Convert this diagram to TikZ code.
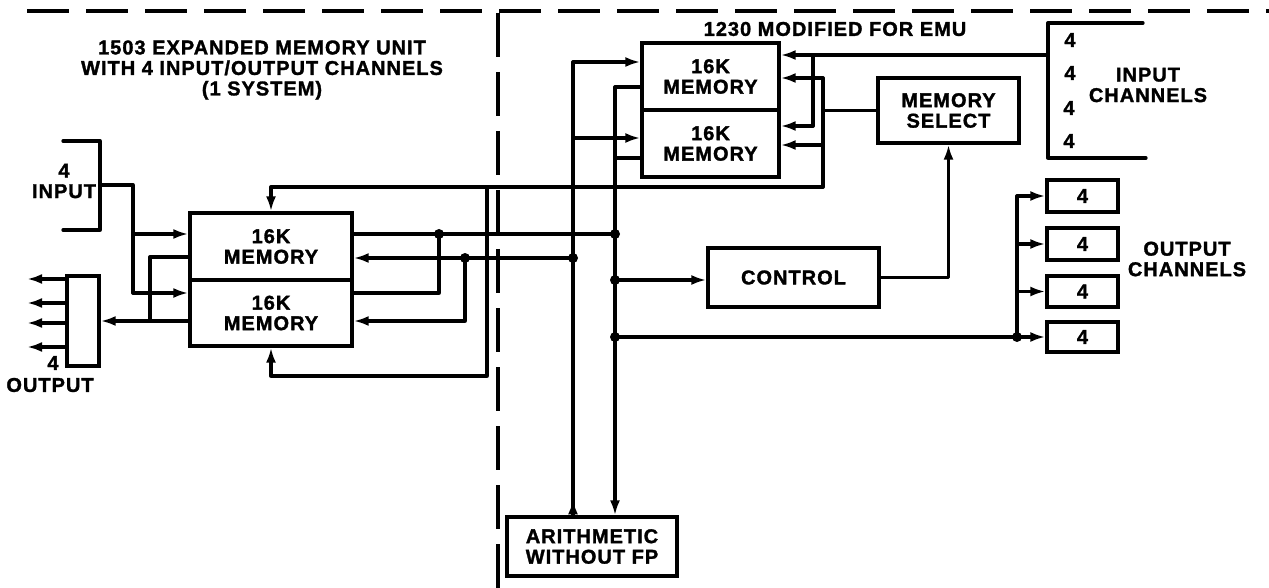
\documentclass[tikz,border=0pt]{standalone}
\usepackage{fontspec}
\setmainfont{Liberation Sans}[LetterSpace=5, BoldFeatures={FakeBold=1.5}]
\usetikzlibrary{arrows.meta}
\newcommand\lab{\fontsize{20}{20.5}\selectfont\bfseries}
\tikzset{
  wire/.style={line width=3.3pt, line cap=round, line join=round},
  arr/.style={wire, -{Latex[length=15pt,width=10pt]}},
  box/.style={draw, line width=3.3pt, inner sep=0pt, align=center, font=\lab},
  txt/.style={inner sep=0pt, align=center, font=\lab},
  frame/.style={line width=3.3pt, dash pattern=on 42pt off 17pt},
  dot/.style={circle, fill=black, inner sep=0pt, minimum size=10pt}
}
\begin{document}
\begin{tikzpicture}[x=1pt,y=-1pt]
\useasboundingbox (0,0) rectangle (1269,588);
% frame
\draw[frame] (27,11) -- (1269,11);
\draw[frame, dash pattern=on 44pt off 15pt] (498,13) -- (498,588);
% texts
\node[txt] (title) at (262,70) {1503 EXPANDED MEMORY UNIT\\WITH 4 INPUT/OUTPUT CHANNELS\\(1 SYSTEM)};
\node[txt] (title2) at (835,29) {1230 MODIFIED FOR EMU};
\node[txt] (inlab) at (64,181) {4\\INPUT};
\node[txt] (out4) at (53,363) {4};
\node[txt] (outlab) at (50,385) {OUTPUT};
\node[txt] (iclab) at (1148,85) {INPUT\\CHANNELS};
\node[txt] (oclab) at (1187,259) {OUTPUT\\CHANNELS};
\node[txt] (ic1) at (1070,40) {4};
\node[txt] (ic2) at (1070,73) {4};
\node[txt] (ic3) at (1069,108) {4};
\node[txt] (ic4) at (1069,141) {4};
% boxes
\node[box, minimum width=162pt, minimum height=67pt] (LM1) at (271,246.5) {16K\\MEMORY};
\node[box, minimum width=162pt, minimum height=66pt] (LM2) at (271,313) {16K\\MEMORY};
\node[box, minimum width=137pt, minimum height=67pt] (RM1) at (710.5,76.5) {16K\\MEMORY};
\node[box, minimum width=137pt, minimum height=67pt] (RM2) at (710.5,143.5) {16K\\MEMORY};
\node[box, minimum width=141pt, minimum height=65pt] (MS) at (948.5,110.5) {MEMORY\\SELECT};
\node[box, minimum width=171pt, minimum height=59pt] (CTRL) at (793.5,277.5) {CONTROL};
\node[box, minimum width=170pt, minimum height=59pt] (ARITH) at (592,546.5) {ARITHMETIC\\WITHOUT FP};
\node[box, minimum width=71pt, minimum height=32pt] (OC1) at (1082.5,196) {4};
\node[box, minimum width=71pt, minimum height=32pt] (OC2) at (1082.5,244) {4};
\node[box, minimum width=71pt, minimum height=31pt] (OC3) at (1082.5,291.5) {4};
\node[box, minimum width=71pt, minimum height=30pt] (OC4) at (1082.5,337) {4};
\node[box, minimum width=32pt, minimum height=90pt] (OUTBOX) at (83,321) {};
% left input bracket
\draw[wire] (63,141) -| (100,230) -- (63,230);
\coordinate (inL) at (100,185);
\coordinate (jIn1) at (133,234);
\coordinate (jIn2) at (133,293);
\draw[wire] (inL) -| (jIn2);
\draw[arr] (jIn1) -- (LM1.west |- jIn1);
\draw[arr] (jIn2) -- (LM2.west |- jIn2);
% left output
\coordinate (jOut) at (150,321);
\draw[wire] (LM1.west |- 0,257) -| (jOut);
\draw[arr] (LM2.west |- jOut) -- (OUTBOX.east |- jOut);
\foreach \y in {279,303,323,347} \draw[arr] (OUTBOX.west |- 0,\y) -- (27,\y);
% right of left memory
\coordinate (dA) at (439,234);
\coordinate (dB) at (465,258);
\coordinate (bA) at (615,234);
\coordinate (bB) at (573,258);
\draw[wire] (LM1.east |- bA) -- (bA);
\draw[wire] (LM2.east |- 0,293) -| (dA);
\draw[arr] (bB) -- (LM1.east |- bB);
\draw[arr] (dB) |- (LM2.east |- 0,321);
% feedback from memory select bus
\coordinate (fbR) at (823,187);
\coordinate (fbM) at (487,187);
\draw[arr] (fbR) -| (LM1.north);
\draw[arr] (fbM) -- (487,376) -| (LM2.south);
% select bus x=823
\coordinate (s1) at (823,78);
\coordinate (s2) at (823,145);
\draw[wire] (s1) -- (fbR);
\draw[arr] (s1) -- (RM1.east |- s1);
\draw[arr] (s2) -- (RM2.east |- s2);
\draw[wire] (MS.west) -- (MS.west -| s1);
% input channels
\draw[wire] (1143,23) -| (1048,158) -- (1146,158);
\coordinate (icj) at (1048,55);
\coordinate (i1) at (813,55);
\coordinate (i2) at (813,126);
\draw[arr] (icj) -- (RM1.east |- icj);
\draw[wire] (i1) -- (i2);
\draw[arr] (i2) -- (RM2.east |- i2);
% left bus x=573
\coordinate (L1) at (573,62);
\coordinate (L2) at (573,138);
\draw[wire] (ARITH.north -| L1) -- (L1);
\draw[arr] (L1) -- (RM1.west |- L1);
\draw[arr] (L2) -- (RM2.west |- L2);
\draw[arr] (ARITH.north -| L1) -- ++(0,-16);
% right bus x=615
\coordinate (R1) at (615,87);
\coordinate (R2) at (615,158);
\coordinate (R3) at (615,280);
\coordinate (R4) at (615,337);
\draw[wire] (RM1.west |- R1) -- (R1);
\draw[wire] (RM2.west |- R2) -- (R2);
\draw[arr] (R1) -- (ARITH.north -| R1);
\draw[arr] (R3) -- (CTRL.west |- R3);
\coordinate (oc) at (1017,337);
\draw[wire] (R4) -- (oc);
\draw[wire] (oc) -- (OC1.west -| oc);
\foreach \n in {OC1,OC2,OC3,OC4} \draw[arr] (\n.west -| oc) -- (\n.west);
% control to memory select
\draw[arr] (CTRL.east) -| (MS.south);
% junction dots
\foreach \p in {dA,dB,bA,bB,R3,R4,oc} \node[dot] at (\p) {};
\end{tikzpicture}
\end{document}
